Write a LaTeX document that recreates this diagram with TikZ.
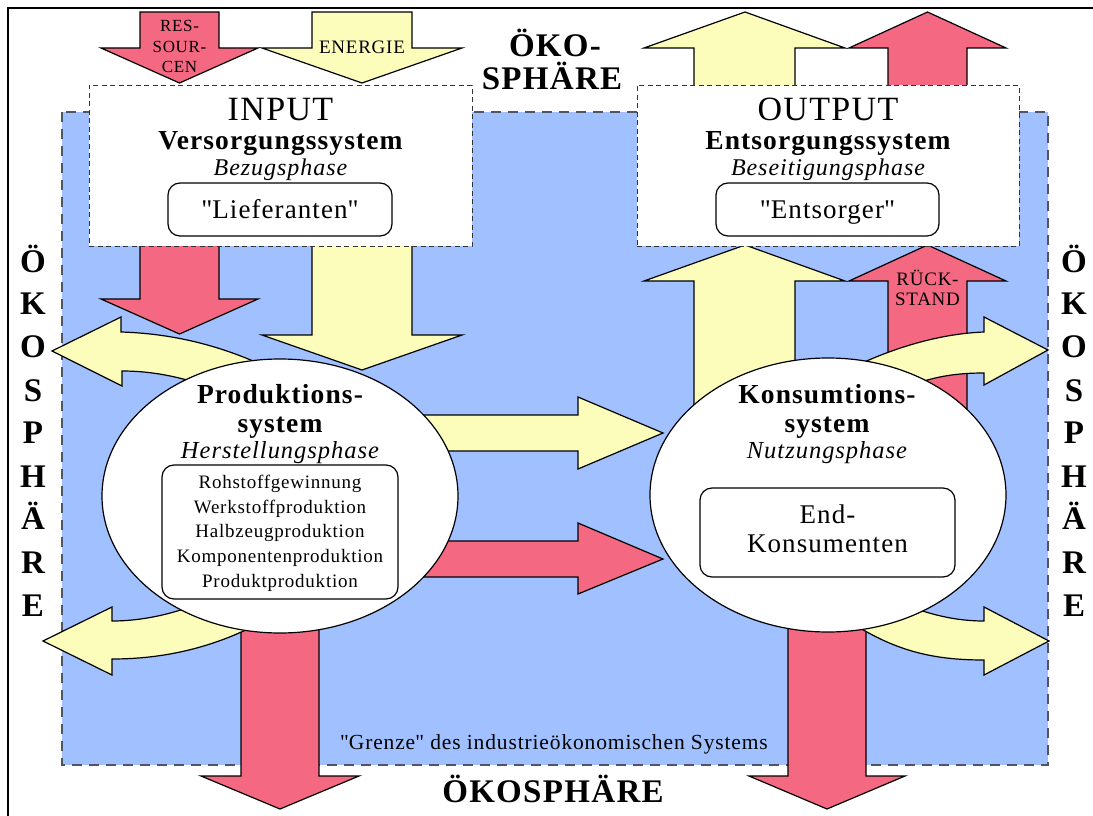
\documentclass[tikz,border=0pt]{standalone}
\usepackage{fontspec}
\setmainfont{Liberation Serif}[LetterSpace=4]
\usetikzlibrary{shapes.geometric}
\definecolor{redc}{RGB}{245,104,130}
\definecolor{yelc}{RGB}{252,252,187}
\definecolor{bluec}{RGB}{160,192,255}
\definecolor{dashc}{RGB}{80,85,100}
\newcommand\fsz[1]{\fontsize{#1}{#1}\selectfont}
\newcommand\qq{\textquotedbl}
\begin{document}
\begin{tikzpicture}[x=1pt,y=-1pt,
  arr/.style={draw=black, line width=1.2pt, line join=miter},
  redarr/.style={arr, fill=redc},
  yelarr/.style={arr, fill=yelc},
  bluebox/.style={fill=bluec, draw=dashc, line width=1.5pt, dash pattern=on 10pt off 7pt},
  iobox/.style={draw=black!80, dash pattern=on 5pt off 3.5pt, line width=0.9pt, fill=white, inner sep=0pt},
  ell/.style={ellipse, draw=black, line width=1.2pt, fill=white, minimum width=356pt, minimum height=274pt, inner sep=0pt},
  rbox/.style={draw=black, rounded corners=12pt, line width=1.2pt, fill=white, inner sep=0pt},
  txt/.style={inner sep=0pt, anchor=base, align=center},
  side/.style={txt, font=\fsz{33}\bfseries}
]
\useasboundingbox (0,0) rectangle (1093,816);
\fill[white] (0,0) rectangle (1093,816);
% outer frame
\draw[line width=2pt] (8,830) -- (8,8) -- (1100,8);
% system boundary
\draw[bluebox] (62,112) rectangle (1048,765);

% top arrows
\path[redarr] (140,12) -- (219,12) -- (219,48) -- (258,48) -- (179.5,83) -- (101,48) -- (140,48) -- cycle;
\path[yelarr] (312,12) -- (412,12) -- (412,48) -- (462,48) -- (362,83) -- (262,48) -- (312,48) -- cycle;
\path[yelarr] (694,90) -- (694,48) -- (644,48) -- (745,12) -- (845,48) -- (795,48) -- (795,90) -- cycle;
\path[redarr] (888,90) -- (888,48) -- (849,48) -- (927.5,12) -- (1006,48) -- (967,48) -- (967,90) -- cycle;

% input to production
\path[redarr] (140,240) -- (219,240) -- (219,299) -- (258,299) -- (179.5,334) -- (101,299) -- (140,299) -- cycle;
\path[yelarr] (312,240) -- (412,240) -- (412,335) -- (462,335) -- (362,370) -- (262,335) -- (312,335) -- cycle;
% consumption to output
\path[yelarr] (694,470) -- (694,281) -- (644,281) -- (745,245) -- (845,281) -- (795,281) -- (795,470) -- cycle;
\path[redarr] (888,470) -- (888,281) -- (849,281) -- (927.5,245) -- (1006,281) -- (967,281) -- (967,470) -- cycle;
% production to consumption
\path[yelarr] (400,415) -- (578,415) -- (578,397) -- (663,433) -- (578,469) -- (578,451) -- (400,451) -- cycle;
\path[redarr] (400,541) -- (578,541) -- (578,523) -- (663,559) -- (578,594) -- (578,577) -- (400,577) -- cycle;
% bottom arrows
\path[redarr] (241,560) -- (319,560) -- (319,776) -- (359,776) -- (280,809) -- (201,776) -- (241,776) -- cycle;
\path[redarr] (788,560) -- (866,560) -- (866,776) -- (905,776) -- (827,809) -- (749,776) -- (788,776) -- cycle;

% curved arrows
\path[yelarr] (300,385) .. controls (250,355) and (190,334) .. (121,332) -- (121,317) -- (52,351) -- (122,386) -- (122,371) .. controls (150,371) and (185,376) .. (230,395) -- cycle;
\path[yelarr] (230,590) .. controls (190,610) and (150,621) .. (112,621) -- (112,607) -- (43,641) -- (112,675) -- (112,659) .. controls (170,659) and (230,645) .. (290,605) -- cycle;
\path[yelarr] (820,385) .. controls (870,355) and (930,334) .. (984,332) -- (984,317) -- (1048,350) -- (984,385) -- (984,373) .. controls (950,373) and (920,378) .. (880,400) -- cycle;
\path[yelarr] (880,595) .. controls (920,612) and (950,621) .. (984,621) -- (984,607) -- (1049,641) -- (984,675) -- (984,660) .. controls (930,660) and (890,650) .. (840,615) -- cycle;

% input / output boxes
\node[iobox, minimum width=383pt, minimum height=161pt] (inbox) at (280.5,165.5) {};
\node[iobox, minimum width=382pt, minimum height=161pt] (outbox) at (828,165.5) {};
\node[rbox, minimum width=224pt, minimum height=53pt] (liefbox) at (280,209.5) {};
\node[rbox, minimum width=223pt, minimum height=53pt] (entsbox) at (827.5,209.5) {};

% ellipses
\node[ell] (prod) at (280,496) {};
\node[ell] (kons) at (828,495) {};
\node[rbox, minimum width=236pt, minimum height=134pt] (stufen) at (280,532) {};
\node[rbox, minimum width=255pt, minimum height=89pt] (endbox) at (827.5,532.5) {};

% texts top arrows
\node[txt, font=\fsz{17}] (res1) at (179.5,32) {RES-};
\node[txt, font=\fsz{17}] (res2) at (179.5,53) {SOUR-};
\node[txt, font=\fsz{17}] (res3) at (179.5,73) {CEN};
\node[txt, font=\fsz{19}] (energ) at (362,54) {ENERGIE};
\node[txt, font=\fsz{19}] (rk1) at (927.5,285) {RÜCK-};
\node[txt, font=\fsz{19}] (rk2) at (927.5,305) {STAND};

% oekosphaere labels
\node[txt, font=\fsz{33}\bfseries] (oko1) at (555,57) {ÖKO-};
\node[txt, font=\fsz{33}\bfseries] (oko2) at (552,90) {SPHÄRE};
\node[txt, font=\fsz{33}\bfseries] (okob) at (553,802) {ÖKOSPHÄRE};
\foreach \ch/\yy [count=\i] in {Ö/272, K/314, O/357, S/401, P/443, H/487, Ä/529, R/573, E/616}{
  \node[side] (ls\i) at (33,\yy) {\ch};
  \node[side] (rs\i) at (1074,\yy) {\ch};
}

% input texts
\node[txt, font=\fsz{34}] (intit) at (280.5,121) {INPUT};
\node[txt, font=\fsz{27.5}\bfseries] (versorg) at (280.5,149) {Versorgungssystem};
\node[txt, font=\fsz{24}\itshape] (bezug) at (280.5,175) {Bezugsphase};
\node[txt, font=\fsz{27}] (lief) at (280,218) {\qq Lieferanten\qq};
% output texts
\node[txt, font=\fsz{34}] (outtit) at (828,121) {OUTPUT};
\node[txt, font=\fsz{27.5}\bfseries] (entsorg) at (828,149) {Entsorgungssystem};
\node[txt, font=\fsz{24}\itshape] (beseit) at (828,175) {Beseitigungsphase};
\node[txt, font=\fsz{27}] (ents) at (827.5,218) {\qq Entsorger\qq};

% production texts
\node[txt, font=\fsz{27.5}\bfseries] (pr1) at (280,403) {Produktions-};
\node[txt, font=\fsz{27.5}\bfseries] (pr2) at (280,432) {system};
\node[txt, font=\fsz{24.5}\itshape] (pr3) at (280,458) {Herstellungsphase};
\node[txt, font=\fsz{19}] (st1) at (280,488) {Rohstoffgewinnung};
\node[txt, font=\fsz{19}] (st2) at (280,513) {Werkstoffproduktion};
\node[txt, font=\fsz{19}] (st3) at (280,537.5) {Halbzeugproduktion};
\node[txt, font=\fsz{19}] (st4) at (280,562) {Komponentenproduktion};
\node[txt, font=\fsz{19}] (st5) at (280,587) {Produktproduktion};

% consumption texts
\node[txt, font=\fsz{27.5}\bfseries] (ko1) at (827,403) {Konsumtions-};
\node[txt, font=\fsz{27.5}\bfseries] (ko2) at (827,432) {system};
\node[txt, font=\fsz{24.5}\itshape] (ko3) at (827,458) {Nutzungsphase};
\node[txt, font=\fsz{27}] (ek1) at (827.5,523) {End-};
\node[txt, font=\fsz{27}] (ek2) at (827.5,552) {Konsumenten};

% boundary label
\node[txt, font=\fsz{21.5}] (grenze) at (554,749) {\qq Grenze\qq{} des industrieökonomischen Systems};
\end{tikzpicture}
\end{document}
